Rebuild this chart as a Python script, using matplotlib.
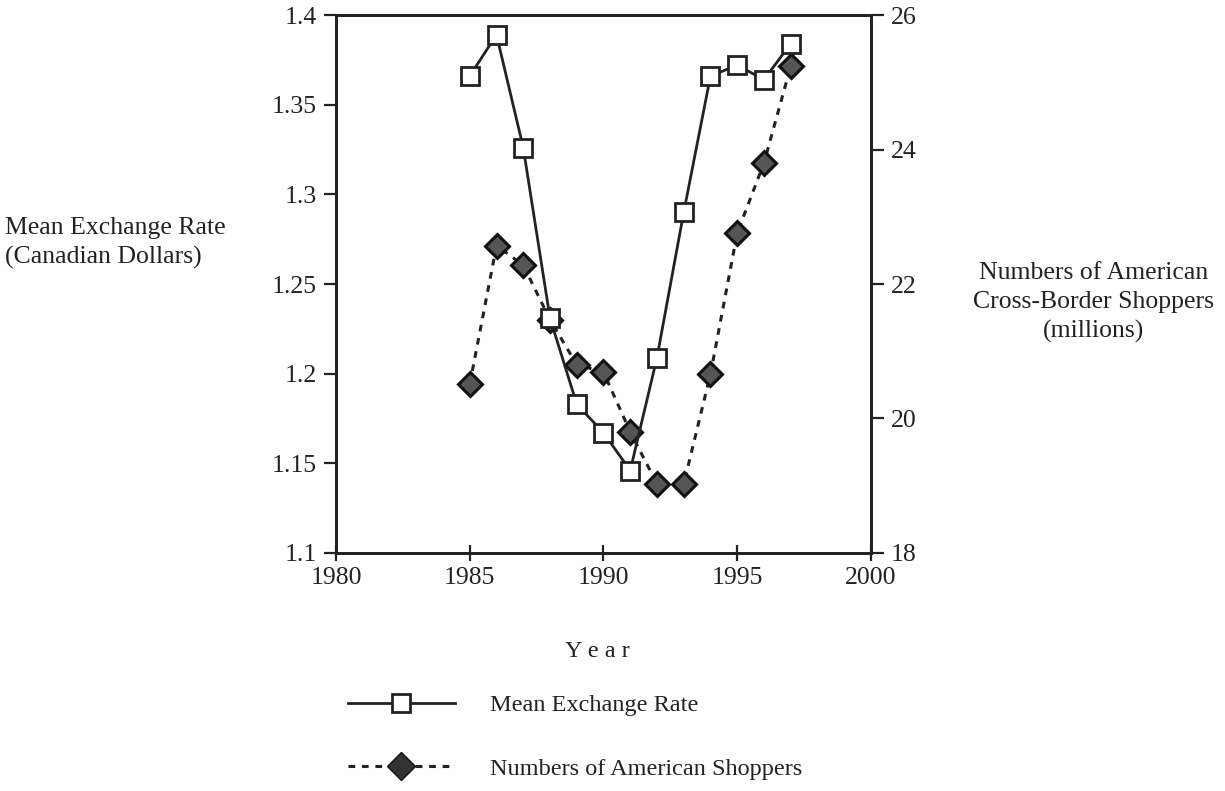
import matplotlib.pyplot as plt
from matplotlib.lines import Line2D

plt.rcParams['font.family'] = ['Liberation Serif', 'DejaVu Serif']

years = [1985, 1986, 1987, 1988, 1989, 1990, 1991, 1992, 1993, 1994, 1995, 1996, 1997]
exchange_rate = [1.366, 1.389, 1.326, 1.231, 1.183, 1.167, 1.146, 1.209, 1.290,
                 1.366, 1.372, 1.364, 1.384]
shoppers = [20.51, 22.57, 22.28, 21.47, 20.80, 20.69, 19.80, 19.03, 19.03,
            20.66, 22.76, 23.80, 25.24]

fig = plt.figure(figsize=(12.25, 7.91), dpi=100)
ax = fig.add_axes([0.2743, 0.3009, 0.4367, 0.6801])
ax2 = ax.twinx()

# shoppers drawn first so the rate squares sit on top
ax2.plot(years, shoppers, linestyle=(0, (2.2, 2.2)), color='#222222', lw=2.2,
         marker='D', markersize=12, markerfacecolor='#555555',
         markeredgecolor='#111111', markeredgewidth=2.2)
ax.plot(years, exchange_rate, color='#222222', lw=2.0, marker='s', markersize=12.5,
        markerfacecolor='white', markeredgecolor='#222222', markeredgewidth=2.0,
        zorder=5)
ax.set_zorder(ax2.get_zorder() + 1)
ax.patch.set_visible(False)

ax.set_xlim(1980, 2000)
ax.set_ylim(1.1, 1.4)
ax2.set_ylim(18, 26)
ax.set_xticks([1980, 1985, 1990, 1995, 2000])
ax.set_yticks([1.1, 1.15, 1.2, 1.25, 1.3, 1.35, 1.4])
ax.set_yticklabels(['1.1', '1.15', '1.2', '1.25', '1.3', '1.35', '1.4'])
ax2.set_yticks([18, 20, 22, 24, 26])

for a in (ax, ax2):
    for s in a.spines.values():
        s.set_linewidth(2.0)
        s.set_color('#222222')
    a.tick_params(direction='out', length=9, width=1.6, pad=5, labelsize=18.5,
                  colors='#222222')
ax.tick_params(axis='x', direction='inout', length=12, pad=4)

fig.text(0.004, 0.693, 'Mean Exchange Rate\n(Canadian Dollars)', fontsize=18.5,
         ha='left', va='center', color='#222222', linespacing=1.4)
fig.text(0.893, 0.617, 'Numbers of American\nCross-Border Shoppers\n(millions)',
         fontsize=18.5, ha='center', va='center', color='#222222', linespacing=1.4)
fig.text(0.488, 0.176, 'Y e a r', fontsize=17.5, ha='center', va='center', color='#222222')

h1 = Line2D([], [], color='#222222', lw=2.0, marker='s', markersize=12.5,
            markerfacecolor='white', markeredgecolor='#222222', markeredgewidth=2.0)
h2 = Line2D([], [], linestyle=(0, (2.2, 2.2)), color='#222222', lw=2.2, marker='D',
            markersize=14, markerfacecolor='#333333', markeredgecolor='#111111')
fig.legend([h1, h2], ['Mean Exchange Rate', 'Numbers of American Shoppers'],
           loc='upper left', bbox_to_anchor=(0.266, 0.15), frameon=False,
           fontsize=17.5, handlelength=4.4, handletextpad=1.45, labelspacing=1.7,
           labelcolor='#222222')

fig.savefig('out.png', dpi=100)
